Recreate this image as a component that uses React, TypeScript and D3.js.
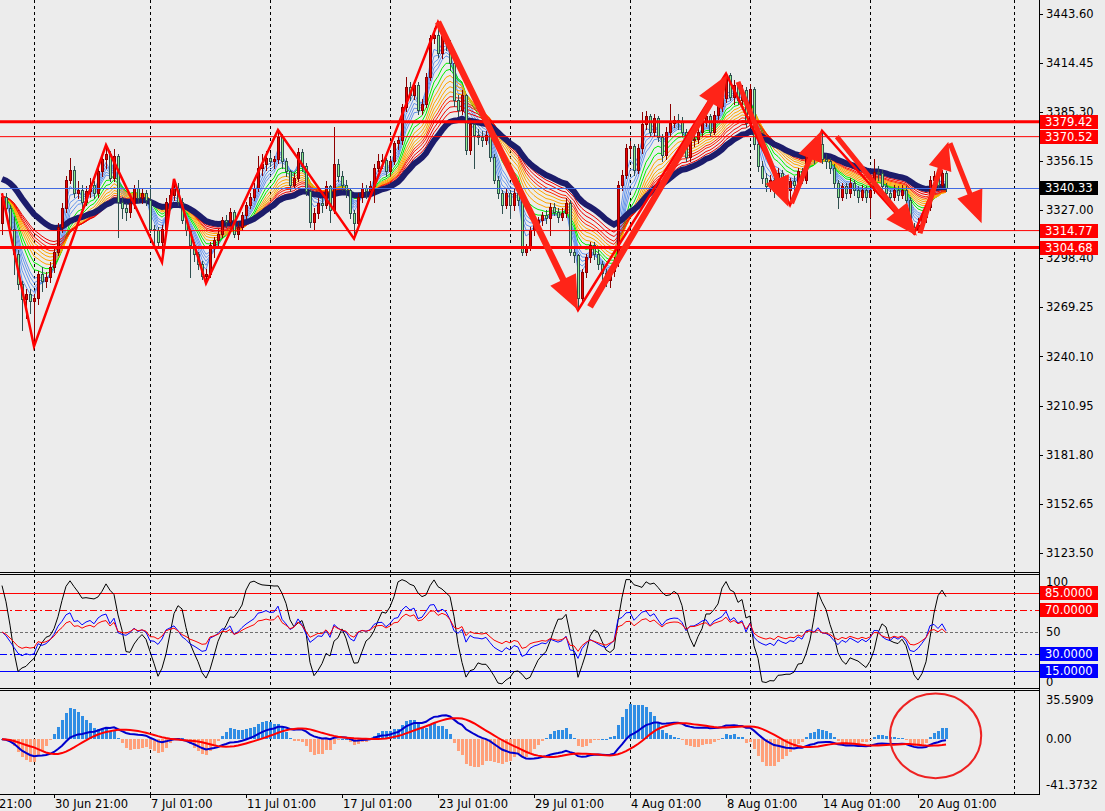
import React from "react";
import * as d3 from "d3";

// H4 bars (open = previous close)
const firstOpen = 3319;
const closes = [
  3335, 3328, 3316, 3301, 3283, 3274, 3277, 3273, 3274.5, 3289,
  3285, 3287.5, 3293, 3302, 3317, 3328, 3345, 3351, 3337, 3339,
  3332, 3338.5, 3342, 3337, 3350, 3357, 3360, 3346, 3359, 3332,
  3328, 3326, 3331, 3340, 3334, 3337, 3333, 3316, 3315, 3308,
  3316, 3332, 3336, 3340, 3332, 3321, 3315, 3306, 3301, 3295,
  3288, 3289, 3306, 3309, 3313, 3321, 3320, 3326, 3313, 3317,
  3324, 3330, 3335, 3340, 3352, 3354, 3358, 3356, 3357, 3370.5,
  3356, 3350, 3342, 3346, 3361.5, 3353, 3338, 3320, 3325, 3331,
  3330, 3341, 3327, 3354, 3347, 3342, 3339, 3325, 3319, 3335,
  3340, 3338, 3341, 3352, 3356, 3356.5, 3350, 3356, 3366.5, 3368.5,
  3388, 3400, 3395, 3401, 3386.5, 3390, 3406, 3429, 3431, 3420,
  3430, 3426, 3414, 3392, 3386.5, 3395, 3362.5, 3378, 3371.5, 3370.5,
  3368.5, 3371.5, 3358.5, 3345, 3337, 3330, 3337, 3330, 3337, 3333,
  3302, 3305, 3315, 3319, 3321, 3324, 3322, 3329, 3326, 3323,
  3325, 3331, 3302, 3300, 3275, 3290, 3299, 3306, 3301, 3295,
  3289.5, 3285.5, 3290.5, 3296, 3342, 3348, 3363.5, 3365, 3351, 3363.5,
  3378, 3382.5, 3373.5, 3381.5, 3370.5, 3359.5, 3373.5, 3378.5, 3380.5, 3380,
  3373.5, 3358.5, 3368.5, 3369, 3373.5, 3379.5, 3382.5, 3373.5, 3383.5, 3388.5,
  3393.5, 3407, 3394, 3401, 3392.5, 3398, 3378.5, 3399, 3366, 3353,
  3346, 3341, 3345, 3338, 3349, 3343, 3339, 3344, 3342, 3350,
  3345, 3360, 3362, 3358, 3366, 3357, 3356, 3352, 3343, 3335,
  3341, 3337, 3343, 3339, 3335, 3339, 3335, 3339, 3349.5, 3349,
  3341, 3337, 3335, 3339, 3336, 3339, 3333, 3317, 3315, 3318,
  3323, 3329, 3345, 3347, 3342, 3349, 3340.33,
];
const highs = [
  3337, 3337, 3330, 3323, 3303, 3285, 3280, 3280, 3277, 3291,
  3293, 3290, 3296, 3305, 3319, 3331, 3347, 3358, 3353, 3344,
  3342, 3341, 3346, 3344, 3352, 3359, 3365.5, 3362, 3363, 3360,
  3335, 3331, 3334, 3342, 3345, 3340, 3339, 3342, 3318, 3317,
  3318, 3334, 3340, 3345.5, 3343, 3334, 3322, 3316, 3308, 3302,
  3297, 3292, 3308, 3311, 3316, 3323, 3324, 3328, 3327, 3320,
  3326, 3332, 3337, 3343, 3359, 3360, 3362, 3361, 3359, 3374.5,
  3372, 3358, 3351, 3349, 3364, 3363, 3355, 3339, 3328, 3334,
  3334, 3344, 3342, 3376, 3357, 3350, 3345, 3340, 3327, 3337,
  3343, 3342, 3344, 3354, 3360.5, 3360, 3358, 3358, 3368, 3371,
  3390, 3406, 3403, 3404, 3403, 3393, 3408, 3431, 3435, 3438.5,
  3433, 3432, 3428, 3416, 3395, 3398, 3396, 3381, 3380, 3375,
  3374, 3374, 3373, 3360, 3347, 3339, 3340, 3339, 3340, 3339,
  3335, 3307, 3317, 3321, 3323, 3326, 3327, 3331, 3331, 3328,
  3328, 3334, 3333, 3304, 3301, 3292, 3301, 3308, 3308, 3303,
  3297, 3292, 3293, 3299, 3344, 3351, 3366, 3368, 3366, 3366,
  3385, 3385.5, 3384, 3384, 3383, 3372, 3376, 3390, 3383, 3384,
  3382, 3375, 3371, 3373, 3376, 3382, 3385, 3384, 3386, 3391,
  3396, 3408, 3408, 3404, 3403, 3401, 3400, 3402, 3400, 3368,
  3356, 3349, 3348, 3347, 3352, 3351, 3346, 3346, 3347, 3352,
  3352, 3362, 3365, 3364, 3369, 3374, 3360, 3358, 3354, 3345,
  3343, 3343, 3346, 3345, 3341, 3342, 3341, 3341, 3357.5, 3353,
  3351, 3343, 3339, 3342, 3341, 3342, 3341, 3335, 3319, 3322,
  3326, 3331, 3347, 3350, 3349, 3351, 3350,
];
const lows = [
  3313, 3326, 3312, 3289, 3280, 3256, 3263, 3266, 3246, 3271,
  3279, 3281, 3284, 3290, 3300, 3314, 3326, 3343, 3335, 3334,
  3328, 3330, 3335, 3334, 3335, 3347, 3352, 3344, 3344, 3311,
  3322, 3321, 3323, 3328, 3332, 3331, 3330, 3314, 3305, 3305,
  3296, 3313, 3329, 3333, 3330, 3319, 3312, 3287, 3297, 3292,
  3286, 3283.5, 3287, 3299, 3305, 3311, 3317, 3318, 3311, 3310,
  3315, 3322, 3328, 3333, 3338, 3348, 3351, 3353, 3352, 3355,
  3352, 3347, 3338, 3340, 3344, 3350, 3336, 3317, 3316, 3322,
  3326, 3328, 3320, 3325, 3344, 3339, 3335, 3322, 3310, 3317,
  3332, 3334, 3335, 3332, 3350, 3352, 3347, 3348, 3354, 3363,
  3366, 3386, 3392, 3393, 3384, 3384, 3388, 3404, 3426, 3418,
  3417, 3422, 3410, 3389, 3383, 3384, 3360, 3360, 3352, 3366,
  3365, 3366, 3356, 3343, 3334, 3325, 3328, 3322, 3327, 3330,
  3300, 3300, 3303, 3312, 3316, 3318, 3319, 3312, 3324, 3320,
  3321, 3323, 3300, 3296, 3267.5, 3272, 3287, 3296, 3298, 3292,
  3286, 3282, 3281.5, 3288, 3294, 3339, 3346, 3359, 3348, 3349,
  3361, 3375, 3371, 3371, 3368, 3356, 3357, 3371, 3376, 3375,
  3371, 3356, 3356, 3365, 3367, 3371, 3377, 3371, 3372, 3381,
  3386, 3391, 3392, 3390, 3390, 3390, 3376, 3376, 3363, 3350,
  3343, 3338, 3338, 3335, 3336, 3340, 3336, 3330, 3339, 3340,
  3343, 3343, 3357, 3355, 3356, 3355, 3352, 3349, 3340, 3328,
  3333, 3334, 3335, 3336, 3332, 3333, 3332, 3323, 3337, 3345,
  3339, 3334, 3332, 3333, 3333, 3334, 3330, 3315, 3313, 3314,
  3315, 3320, 3327, 3342, 3340, 3340, 3338,
];

const priceTicks = [3443.6, 3414.45, 3385.3, 3356.15, 3327.0, 3298.4, 3269.25, 3240.1, 3210.95, 3181.8, 3152.65, 3123.5];
const timeTickBars = [-11, 13, 37, 61, 85, 109, 133, 157, 181, 205, 229];
const timeTickLabels = ["26 Jun 21:00", "30 Jun 21:00", "7 Jul 01:00", "11 Jul 01:00", "17 Jul 01:00", "23 Jul 01:00", "29 Jul 01:00", "4 Aug 01:00", "8 Aug 01:00", "14 Aug 01:00", "20 Aug 01:00"];
const gridBars = [8, 37, 67, 97, 127, 157, 187, 217, 253];

const levelPrices = [3379.42, 3370.52, 3314.77, 3304.68];
const levelWeights = [3, 1, 1, 3];
const bidPrice = 3340.33;

const zigzagBars = [0, 8, 26, 40, 43, 51, 69, 88, 109, 144, 181, 197, 205, 228, 235];
const zigzagSides = ["H", "L", "H", "L", "H", "L", "H", "L", "H", "L", "H", "L", "H", "L", "H"];

// hand drawn arrows: [bar, price] from -> to
const arrowStarts = [[109, 3438.6], [147, 3269.5], [184, 3403], [197.4, 3331], [208.7, 3370.5], [229.5, 3313.2], [237, 3366.6]];
const arrowEnds = [[144, 3267.6], [181.25, 3407.1], [196.6, 3328.9], [204.9, 3374], [228.7, 3311.7], [236.6, 3367.5], [244.9, 3319.1]];
const arrowHeads = [34, 32, 30, 30, 32, 28, 32];

// moving average ribbon (fast -> slow) and the slow navy average
const emaPeriods = [3, 4, 5, 6, 7, 9, 11, 13, 15, 17, 19, 21, 23, 26, 29];
const emaColors = ["#6495ed", "#6495ed", "#6495ed", "#6495ed", "#6495ed", "#00ee00", "#00ee00", "#ffa500", "#ffa500", "#ffa500", "#ffa500", "#ff2a00", "#ff1a00", "#ee0000", "#ee0000"];
const slowPeriod = 35;
const slowSeed = 3346;

const stochLevels = [85, 70, 50, 30, 15];
const stochScaleLabels = [100, 50, 0];
const macdScaleLabels = [35.5909, 0, -41.3732];
const macdCircle = { bar: 233.4, value: 3, rBars: 11.4, rValue: 38.5 };

// ---------- indicator helpers ----------
function ema(values: number[], period: number, seed = values[0]) {
  const k = 2 / (period + 1);
  let prev = seed;
  return values.map((v, i) => (i === 0 && seed === values[0] ? prev : (prev = prev + k * (v - prev))));
}
function sma(values: number[], period: number) {
  return values.map((_, i) => d3.mean(values.slice(Math.max(0, i - period + 1), i + 1)) as number);
}
function stochastic(period: number, slowing: number) {
  const raw = closes.map((c, i) => {
    const s = Math.max(0, i - period + 1);
    const hh = d3.max(highs.slice(s, i + 1)) as number;
    const ll = d3.min(lows.slice(s, i + 1)) as number;
    return [c - ll, hh - ll];
  });
  return raw.map((_, i) => {
    const w = raw.slice(Math.max(0, i - slowing + 1), i + 1);
    const den = d3.sum(w, (d) => d[1]);
    return den ? (100 * d3.sum(w, (d) => d[0])) / den : 50;
  });
}
function rsi(period: number) {
  const diffs = closes.map((c, i) => (i === 0 ? 0 : c - closes[i - 1]));
  const seed = d3.mean(diffs.slice(1), Math.abs) as number;
  let ag = seed / 2;
  let al = seed / 2;
  return diffs.map((d, i) => {
    if (i > 0) {
      ag = (ag * (period - 1) + Math.max(d, 0)) / period;
      al = (al * (period - 1) + Math.max(-d, 0)) / period;
    }
    return 100 - 100 / (1 + ag / al);
  });
}

function arrowPoints(x0: number, y0: number, x1: number, y1: number, head: number, shaft: number) {
  const len = Math.hypot(x1 - x0, y1 - y0);
  const ux = (x1 - x0) / len;
  const uy = (y1 - y0) / len;
  const nx = -uy;
  const ny = ux;
  const bx = x1 - ux * head;
  const by = y1 - uy * head;
  const hw = head * 0.42;
  const sw = shaft / 2;
  return [
    [x0 + nx * sw, y0 + ny * sw],
    [bx + nx * sw, by + ny * sw],
    [bx + nx * hw, by + ny * hw],
    [x1, y1],
    [bx - nx * hw, by - ny * hw],
    [bx - nx * sw, by - ny * sw],
    [x0 - nx * sw, y0 - ny * sw],
  ]
    .map((p) => p.join(","))
    .join(" ");
}

const FONT = "DejaVu Sans, Verdana, sans-serif";
const FS = 11.5;
const BG = "#ececec";

export default function App() {
  const W = 1105;
  const H = 811;
  const plotRight = 1039;
  const mainBottom = 572;
  const stochTop = 574;
  const stochBottom = 688;
  const macdTop = 690;
  const macdBottom = 794;

  const x = d3.scaleLinear().domain([0, 1]).range([2, 6]);
  const yPrice = d3.scaleLinear().domain([3443.6, 3123.5]).range([13.5, 552.9]);
  const yStoch = d3.scaleLinear().domain([100, 0]).range([576.3, 687.7]);
  const yMacd = d3.scaleLinear().domain([35.5909, -41.3732]).range([700, 784.7]);

  const opens = closes.map((_, i) => (i === 0 ? firstOpen : closes[i - 1]));

  const priceLine = d3
    .line<number>()
    .x((_, i) => x(i))
    .y((v) => yPrice(v));
  const stochLine = d3
    .line<number>()
    .x((_, i) => x(i))
    .y((v) => yStoch(v));
  const macdLine = d3
    .line<number>()
    .x((_, i) => x(i))
    .y((v) => yMacd(v));

  const emas = emaPeriods.map((p) => ema(closes, p));
  const slow = ema(closes, slowPeriod, slowSeed);

  const kLine = stochastic(14, 3);
  const rsiFast = rsi(13);
  const rsiSlow = rsi(21);

  const ema12 = ema(closes, 12);
  const ema26 = ema(closes, 26);
  const macd = ema12.map((v, i) => v - ema26[i]);
  const signal = sma(macd, 9);
  const hist = macd.map((v, i) => 2.6 * (v - signal[i]));

  const zigzagPts = zigzagBars.map((b, k) => [x(b), yPrice(zigzagSides[k] === "H" ? highs[b] : lows[b])] as [number, number]);

  const levelStyle = (v: number) => {
    if (v === 85) return { stroke: "#ff0000", dash: undefined };
    if (v === 70) return { stroke: "#ff0000", dash: "7,3,2,3" };
    if (v === 50) return { stroke: "#707070", dash: "3,2" };
    if (v === 30) return { stroke: "#0000ff", dash: "7,3,2,3" };
    return { stroke: "#0000ff", dash: undefined };
  };

  const labelBox = (yc: number, text: string, fill: string, key: string) => (
    <g key={key}>
      <rect x={1040} y={Math.round(yc - 7)} width={58} height={14} fill={fill} />
      <text x={1045} y={yc} dy="0.36em" fontSize={FS} fill="#fff" fontFamily={FONT}>
        {text}
      </text>
    </g>
  );

  return (
    <svg width={W} height={H} style={{ position: "absolute", left: 0, top: 0, background: BG }} fontFamily={FONT}>
      <defs>
        <clipPath id="clipMain">
          <rect x={0} y={0} width={plotRight} height={mainBottom} />
        </clipPath>
        <clipPath id="clipStoch">
          <rect x={0} y={stochTop + 1} width={plotRight} height={stochBottom - stochTop - 1} />
        </clipPath>
        <clipPath id="clipMacd">
          <rect x={0} y={macdTop + 1} width={plotRight} height={macdBottom - macdTop - 1} />
        </clipPath>
      </defs>
      <rect x={0} y={0} width={W} height={H} fill={BG} />

      {/* vertical grid */}
      {[
        [0, mainBottom],
        [stochTop, stochBottom],
        [macdTop, macdBottom],
      ].map(([t, b], k) =>
        gridBars.map((g) => (
          <line key={`g${k}-${g}`} x1={x(g) + 0.5} x2={x(g) + 0.5} y1={t} y2={b} stroke="#000" strokeDasharray="3,3" />
        ))
      )}

      {/* ---------- main panel ---------- */}
      <g clipPath="url(#clipMain)">
        {emas.map((e, k) => (
          <path key={`ema${k}`} d={priceLine(e) ?? ""} fill="none" stroke={emaColors[k]} strokeWidth={1} />
        ))}
        <path d={priceLine(slow) ?? ""} fill="none" stroke="#1c1c6b" strokeWidth={6} />

        {closes.map((c, i) => {
          const o = opens[i];
          const up = c >= o;
          const cx = Math.round(x(i));
          const top = Math.round(yPrice(Math.max(o, c)));
          const bot = Math.max(top + 1, Math.round(yPrice(Math.min(o, c))));
          const edge = up ? "#8b0000" : "#2f4f4f";
          const fill = up ? "#ee0000" : "#90ee90";
          return (
            <g key={`c${i}`} shapeRendering="crispEdges">
              <rect x={cx} y={Math.round(yPrice(highs[i]))} width={1} height={Math.round(yPrice(lows[i])) - Math.round(yPrice(highs[i])) + 1} fill={edge} />
              <rect x={cx - 1} y={top} width={3} height={bot - top + 1} fill={edge} />
              {bot - top > 1 && <rect x={cx} y={top + 1} width={1} height={bot - top - 1} fill={fill} />}
            </g>
          );
        })}

        {levelPrices.map((p, k) => (
          <line key={`lv${k}`} x1={0} x2={plotRight} y1={yPrice(p)} y2={yPrice(p)} stroke="#ff0000" strokeWidth={levelWeights[k]} />
        ))}
        <line x1={0} x2={plotRight} y1={Math.round(yPrice(bidPrice)) + 0.5} y2={Math.round(yPrice(bidPrice)) + 0.5} stroke="#4169e1" />

        <path d={d3.line()(zigzagPts) ?? ""} fill="none" stroke="#ff0000" strokeWidth={2.5} strokeLinejoin="miter" />

        {arrowStarts.map((s, k) => (
          <polygon
            key={`ar${k}`}
            points={arrowPoints(x(s[0]), yPrice(s[1]), x(arrowEnds[k][0]), yPrice(arrowEnds[k][1]), arrowHeads[k], k < 2 ? 6.5 : 5)}
            fill="#ff2418"
          />
        ))}
      </g>

      {/* ---------- stochastic / rsi panel ---------- */}
      <g clipPath="url(#clipStoch)">
        {stochLevels.map((v) => {
          const st = levelStyle(v);
          return (
            <line key={`sl${v}`} x1={0} x2={plotRight} y1={Math.round(yStoch(v)) + 0.5} y2={Math.round(yStoch(v)) + 0.5} stroke={st.stroke} strokeDasharray={st.dash} />
          );
        })}
        <path d={stochLine(kLine) ?? ""} fill="none" stroke="#000" strokeWidth={1} />
        <path d={stochLine(rsiFast) ?? ""} fill="none" stroke="#0000ff" strokeWidth={1} />
        <path d={stochLine(rsiSlow) ?? ""} fill="none" stroke="#ff0000" strokeWidth={1} />
      </g>

      {/* ---------- macd panel ---------- */}
      <g clipPath="url(#clipMacd)">
        {hist.map((v, i) => {
          const y0 = Math.round(yMacd(0));
          const y1 = Math.round(yMacd(v));
          return (
            <rect
              key={`h${i}`}
              x={Math.round(x(i)) - 1}
              y={Math.min(y0, y1)}
              width={3}
              height={Math.max(1, Math.abs(y1 - y0))}
              fill={v >= 0 ? "#2f8de4" : "#ffa07a"}
              shapeRendering="crispEdges"
            />
          );
        })}
        <path d={macdLine(macd) ?? ""} fill="none" stroke="#0000cd" strokeWidth={2} />
        <path d={macdLine(signal) ?? ""} fill="none" stroke="#ff0000" strokeWidth={2} />
        <ellipse
          cx={x(macdCircle.bar)}
          cy={yMacd(macdCircle.value)}
          rx={x(macdCircle.bar + macdCircle.rBars) - x(macdCircle.bar)}
          ry={yMacd(macdCircle.value - macdCircle.rValue) - yMacd(macdCircle.value)}
          fill="none"
          stroke="#ee2222"
          strokeWidth={2}
        />
      </g>

      {/* ---------- frames ---------- */}
      <g stroke="#000" fill="none" shapeRendering="crispEdges">
        <line x1={0} x2={plotRight} y1={mainBottom + 0.5} y2={mainBottom + 0.5} />
        <line x1={0} x2={plotRight} y1={stochTop + 0.5} y2={stochTop + 0.5} />
        <line x1={0} x2={plotRight} y1={stochBottom + 0.5} y2={stochBottom + 0.5} />
        <line x1={0} x2={plotRight} y1={macdTop + 0.5} y2={macdTop + 0.5} />
        <line x1={0} x2={plotRight} y1={macdBottom + 0.5} y2={macdBottom + 0.5} />
        <line x1={plotRight + 0.5} x2={plotRight + 0.5} y1={0} y2={macdBottom + 1} />
      </g>

      {/* price axis */}
      {priceTicks.map((p) => (
        <g key={`pt${p}`}>
          <line x1={plotRight} x2={plotRight + 4} y1={Math.round(yPrice(p)) + 0.5} y2={Math.round(yPrice(p)) + 0.5} stroke="#000" />
          <text x={1046} y={yPrice(p)} dy="0.36em" fontSize={FS} fill="#000">
            {p.toFixed(2)}
          </text>
        </g>
      ))}
      {levelPrices.map((p, k) => labelBox(yPrice(p), p.toFixed(2), "#ff0000", `lb${k}`))}
      {labelBox(yPrice(bidPrice), bidPrice.toFixed(2), "#000", "bid")}

      {/* stochastic axis */}
      {stochScaleLabels.map((v) => (
        <text key={`ss${v}`} x={1046} y={Math.min(stochBottom - 6, Math.max(stochTop + 8, yStoch(v)))} dy="0.36em" fontSize={FS} fill="#000">
          {v}
        </text>
      ))}
      {stochLevels
        .filter((v) => v !== 50)
        .map((v) => labelBox(yStoch(v), v.toFixed(4), v > 50 ? "#ff0000" : "#0000ff", `sb${v}`))}

      {/* macd axis */}
      {macdScaleLabels.map((v) => (
        <text key={`ms${v}`} x={1046} y={yMacd(v)} dy="0.36em" fontSize={FS} fill="#000">
          {v === 0 ? "0.00" : String(v)}
        </text>
      ))}

      {/* time axis */}
      {timeTickBars.map((b, k) => (
        <g key={`tt${b}`}>
          <line x1={x(b) + 0.5} x2={x(b) + 0.5} y1={macdBottom} y2={macdBottom + 4} stroke="#000" />
          <text x={x(b) + 1} y={804} dy="0.36em" fontSize={FS} fill="#000">
            {timeTickLabels[k]}
          </text>
        </g>
      ))}
    </svg>
  );
}
